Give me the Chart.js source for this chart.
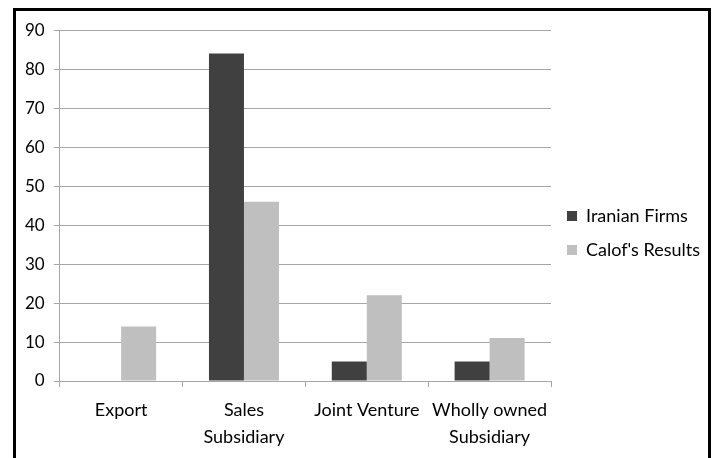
<!DOCTYPE html>
<html>
<head>
<meta charset="utf-8">
<script src="https://cdn.jsdelivr.net/npm/chart.js@4.4.1/dist/chart.umd.min.js"></script>
<style>
  html, body { margin: 0; padding: 0; background: #fff; }
  .frame {
    position: absolute;
    left: 13px;
    top: 8px;
    width: 692px;
    height: 470px;
    border: 3px solid #000;
    background: #fff;
  }
  .chart-box {
    position: absolute;
    left: 0;
    top: 0;
    width: 692px;
    height: 454px;
  }
</style>
</head>
<body>
<div class="frame">
  <div class="chart-box"><canvas id="entryChart"></canvas></div>
</div>
<script>
const categories = [
  "Export",
  ["Sales", "Subsidiary"],
  "Joint Venture",
  ["Wholly owned", "Subsidiary"],
];
const iranianFirms = [0, 84, 5, 5];
const calofResults = [14, 46, 22, 11];
const yTicks = [0, 10, 20, 30, 40, 50, 60, 70, 80, 90];

const fontFamily = "Lato, 'Open Sans', sans-serif";
const gridColor = "#a6a6a6";
const textColor = "#000";

// nudge the legend block up a little so it sits beside the middle of the plot
const legendShift = {
  id: "legendShift",
  afterLayout(chart) {
    const lg = chart.legend;
    if (!lg) return;
    lg.top -= 6;
    lg.bottom -= 6;
  },
};

const ctx = document.getElementById("entryChart").getContext("2d");
new Chart(ctx, {
  type: "bar",
  data: {
    labels: categories,
    datasets: [
      {
        label: "Iranian Firms",
        data: iranianFirms,
        backgroundColor: "#404040",
        borderWidth: 0,
      },
      {
        label: "Calof's Results",
        data: calofResults,
        backgroundColor: "#bfbfbf",
        borderWidth: 0,
      },
    ],
  },
  plugins: [legendShift],
  options: {
    responsive: true,
    maintainAspectRatio: false,
    animation: false,
    datasets: {
      bar: { categoryPercentage: 0.57, barPercentage: 1.0 },
    },
    layout: {
      padding: { left: 0, right: -2, top: 6, bottom: 4 },
    },
    plugins: {
      tooltip: { enabled: false },
      legend: {
        position: "right",
        labels: {
          boxWidth: 10,
          boxHeight: 10,
          padding: 16,
          color: textColor,
          font: { family: fontFamily, size: 18 },
        },
      },
    },
    scales: {
      x: {
        grid: {
          drawOnChartArea: false,
          drawTicks: true,
          tickLength: 6,
          color: gridColor,
        },
        border: { color: gridColor, width: 1 },
        ticks: {
          color: textColor,
          padding: 10,
          maxRotation: 0,
          autoSkip: false,
          font: { family: fontFamily, size: 18, lineHeight: 1.5 },
        },
      },
      y: {
        min: 0,
        max: 90,
        afterBuildTicks: (axis) => {
          axis.ticks = yTicks.map((v) => ({ value: v }));
        },
        grid: {
          color: gridColor,
          tickLength: 6,
        },
        border: { color: gridColor, width: 1 },
        ticks: {
          color: textColor,
          padding: 9,
          font: { family: fontFamily, size: 17 },
        },
      },
    },
  },
});
</script>
</body>
</html>
